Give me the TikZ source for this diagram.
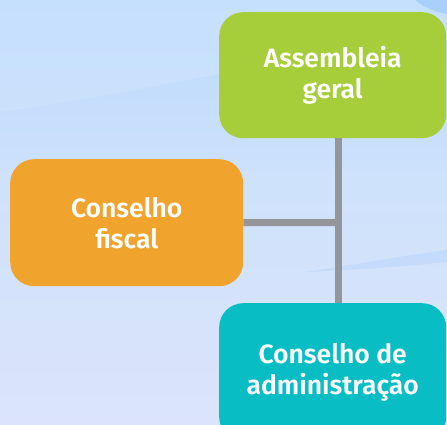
\documentclass[tikz,border=0pt]{standalone}
\usepackage{fontspec}
\setmainfont{Fira Sans}[BoldFont={Fira Sans SemiBold}]
\usetikzlibrary{fadings}
\definecolor{bgtop}{HTML}{C5E0FD}
\definecolor{bgbot}{HTML}{DBE4FA}
\definecolor{swoosh}{HTML}{B6D5FD}
\definecolor{cornerblue}{HTML}{A9CFFB}
\definecolor{agreen}{HTML}{A5CE3A}
\definecolor{aorange}{HTML}{F1A42D}
\definecolor{ateal}{HTML}{08BEC4}
\definecolor{agray}{HTML}{95969A}
\begin{document}
\begin{tikzpicture}[x=1pt,y=-1pt,
  box/.style={rounded corners=24pt, inner sep=0pt, align=center, text=white,
    font=\bfseries\fontsize{26.5}{31}\selectfont, anchor=north west},
  link/.style={draw=agray, line width=7pt}]
\useasboundingbox (0,0) rectangle (447,425);
\clip (0,0) rectangle (447,425);
% background
\shade[top color=bgtop, bottom color=bgbot] (0,0) rectangle (447,425);
\fill[swoosh, path fading=south, fill opacity=0.45] (0,112) .. controls (90,100) and (160,85) .. (230,72) -- (447,40) -- (447,170) -- (0,170) -- cycle;
\fill[cornerblue] (415,0) .. controls (425,8) and (435,12) .. (447,14) -- (447,0) -- cycle;
\fill[swoosh, fill opacity=0.5] (305,272) .. controls (360,264) and (400,256) .. (447,250) -- (447,262) .. controls (400,267) and (350,270) .. (305,272) -- cycle;
% boxes
\node[box, fill=agreen, minimum width=227pt, minimum height=126pt] (ag) at (219,12) {Assembleia\\geral};
\node[box, fill=aorange, minimum width=233pt, minimum height=127pt] (fis) at (10,159) {Conselho\\fiscal};
\node[box, fill=ateal, minimum width=227pt, minimum height=138pt] (adm) at (219,303) {Conselho de\\administração};
% connectors
\coordinate (j) at (338,222.5);
\draw[link] (ag.south -| j) -- (adm.north -| j);
\draw[link] (fis.east) -- (j);
\end{tikzpicture}
\end{document}
